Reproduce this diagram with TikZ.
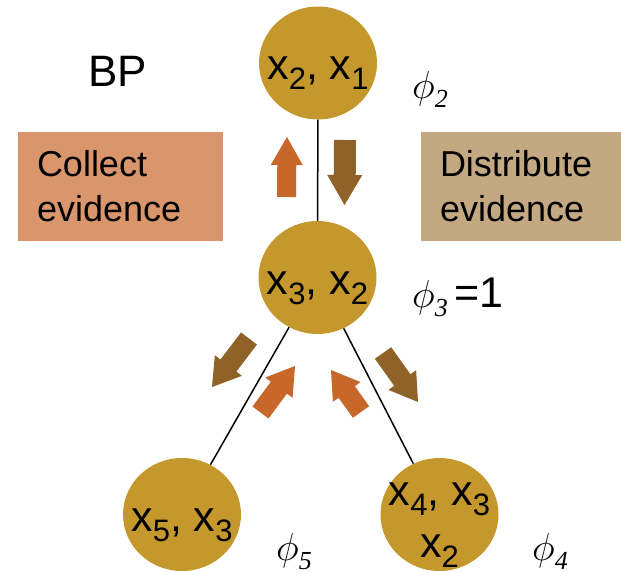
\RequirePackage{fix-cm}
\documentclass[tikz,border=0pt]{standalone}
\usepackage{fontspec}
\setmainfont{Liberation Sans}
\newfontfamily\potfont{Liberation Serif}
\usetikzlibrary{shapes.geometric,calc}

\definecolor{cliquec}{RGB}{197,152,45}
\definecolor{collectc}{RGB}{200,103,42}
\definecolor{distc}{RGB}{143,99,40}
\definecolor{collectbox}{RGB}{217,149,108}
\definecolor{distbox}{RGB}{196,168,130}

% lowered subscript digit inside a clique label
\newcommand\sbs[1]{\raisebox{-10pt}{\fontsize{31}{31}\selectfont #1}}
% potential label: phi with an italic serif subscript
\newcommand\pot[1]{$\phi$\raisebox{-9pt}{\potfont\itshape\fontsize{26}{26}\selectfont #1}}
% clique label of zero width, so the ellipse keeps its set size
\newcommand\cl[1]{\makebox[0pt]{#1}}
% block arrow from tail to tip: shaft half width, head half width, head length, colour
\newcommand\blockarrow[6]{%
  \coordinate (ah) at ($(#2)!#5!(#1)$);
  \fill[#6] ($(#1)!#3!90:(#2)$) -- ($(ah)!#3!-90:(#1)$) -- ($(ah)!#4!-90:(#1)$)
    -- (#2) -- ($(ah)!#4!90:(#1)$) -- ($(ah)!#3!90:(#1)$) -- ($(#1)!#3!-90:(#2)$) -- cycle;}

\begin{document}
\begin{tikzpicture}[x=1pt,y=-1pt,
  clique/.style={ellipse, fill=cliquec, minimum width=118pt, minimum height=113pt,
    inner sep=0pt, font=\fontsize{43}{52}\selectfont, text height=33pt, text depth=0pt},
  link/.style={line width=1.5pt, black},
  ebox/.style={rectangle, inner xsep=19pt, inner ysep=0pt, minimum height=109pt,
    align=left, font=\fontsize{36}{45}\selectfont},
  potl/.style={anchor=base west, inner sep=0pt, font=\fontsize{39}{39}\selectfont},
]
\useasboundingbox (0,0) rectangle (621,572);

% cliques
\node[clique] (c21) at (318,63) {\cl{x\sbs{2}, x\sbs{1}}};
\node[clique] (c32) at (317.5,277.5) {\cl{x\sbs{3}, x\sbs{2}}};
\node[clique] (c53) at (182,514.5) {\cl{x\sbs{5}, x\sbs{3}}};
\node[clique] (c43) at (439.5,514.5)
  {\cl{\raisebox{26pt}{x\sbs{4}, x\sbs{3}}}\cl{\raisebox{-26pt}{x\sbs{2}}}};

% tree edges
\draw[link] (c21) -- (c32);
\draw[link] (c32) -- (c53);
\draw[link] (c32) -- (c43);

% title and phase boxes
\node[anchor=base west, inner sep=0pt, font=\fontsize{44}{44}\selectfont] (bp) at (88,87) {BP};
\node[ebox, fill=collectbox, minimum width=205pt, text width=167pt] (collect) at (120.5,186.5) {Collect\\evidence};
\node[ebox, fill=distbox, minimum width=200pt, text width=162pt] (distribute) at (521,186.5) {Distribute\\evidence};

% potentials
\node[potl] (p2) at (412,99) {\pot{2}};
\node[potl] (p3) at (412,307) {\pot{3}\,{\fontsize{43}{43}\selectfont =1}};
\node[potl] (p5) at (276,560) {\pot{5}};
\node[potl] (p4) at (532,560) {\pot{4}};

% message arrows
\coordinate (uT) at (286.5,197); \coordinate (uP) at (287,137);
\coordinate (dT) at (345,140);   \coordinate (dP) at (344.5,205);
\coordinate (blT) at (249,338.5); \coordinate (blP) at (212,387);
\coordinate (olT) at (260.5,412.5); \coordinate (olP) at (295,366);
\coordinate (orT) at (361,412); \coordinate (orP) at (331,370);
\coordinate (brT) at (383,353); \coordinate (brP) at (418,402);

\blockarrow{uT}{uP}{9.5pt}{16pt}{28pt}{collectc}
\blockarrow{dT}{dP}{11pt}{17.5pt}{30pt}{distc}
\blockarrow{blT}{blP}{10pt}{17pt}{27pt}{distc}
\blockarrow{olT}{olP}{10pt}{17pt}{27pt}{collectc}
\blockarrow{orT}{orP}{10pt}{17pt}{27pt}{collectc}
\blockarrow{brT}{brP}{10pt}{17pt}{27pt}{distc}
\end{tikzpicture}
\end{document}
